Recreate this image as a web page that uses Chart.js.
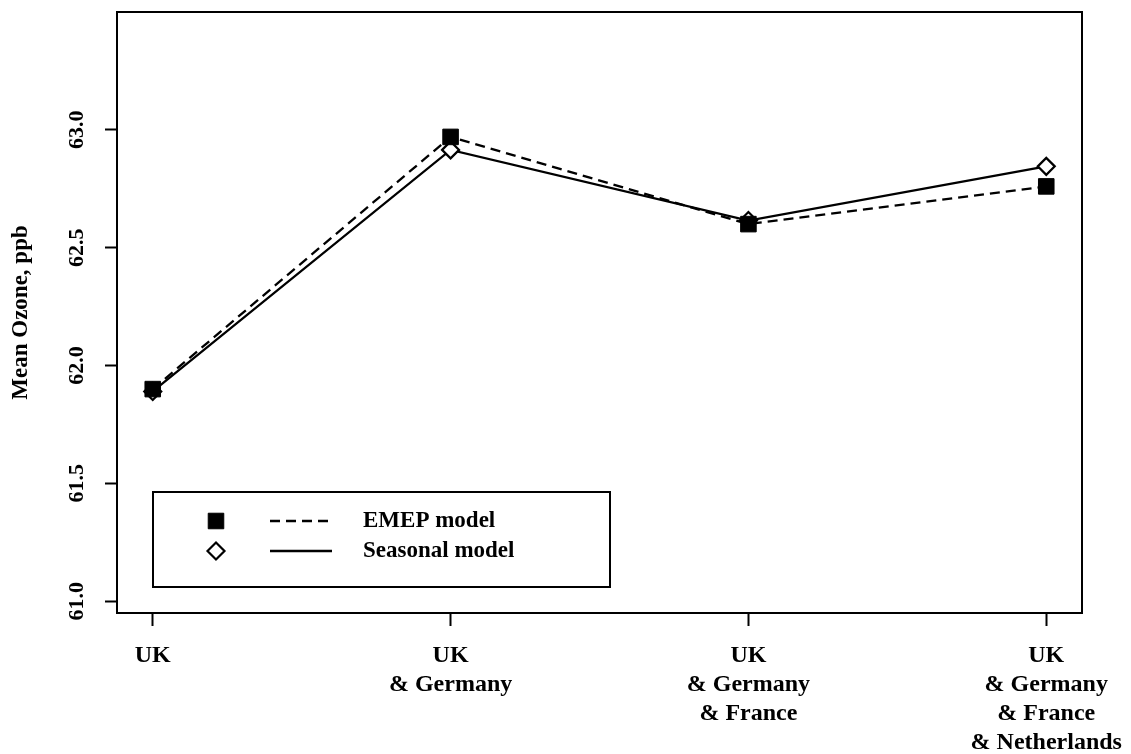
<!DOCTYPE html>
<html>
<head>
<meta charset="utf-8">
<script src="https://cdn.jsdelivr.net/npm/chart.js@4.4.0/dist/chart.umd.min.js"></script>
<style>
  html, body { margin: 0; padding: 0; background: #fff; }
</style>
</head>
<body>
<canvas id="ozoneChart" width="1131" height="754"></canvas>
<script>
// data
const categories = [
  ['UK'],
  ['UK', '& Germany'],
  ['UK', '& Germany', '& France'],
  ['UK', '& Germany', '& France', '& Netherlands']
];
const emepValues = [61.90, 62.97, 62.60, 62.76];
const seasonalValues = [61.89, 62.915, 62.615, 62.845];
const yTickValues = [61.0, 61.5, 62.0, 62.5, 63.0];
const seriesNames = ['EMEP model', 'Seasonal model'];

const serif = '"Liberation Serif", "Times New Roman", serif';

// white page behind the canvas
const bgPlugin = {
  id: 'bg',
  beforeDraw(chart) {
    const ctx = chart.ctx;
    ctx.save();
    ctx.fillStyle = '#fff';
    ctx.fillRect(0, 0, chart.width, chart.height);
    ctx.restore();
  }
};

// box round the plot region
const framePlugin = {
  id: 'frame',
  afterDatasetsDraw(chart) {
    const { ctx, chartArea: a } = chart;
    ctx.save();
    ctx.strokeStyle = '#000';
    ctx.lineWidth = 2;
    ctx.strokeRect(a.left, a.top, a.right - a.left, a.bottom - a.top);
    ctx.restore();
  }
};

// rotated y tick labels (R style)
const yLabelsPlugin = {
  id: 'yLabels',
  afterDraw(chart) {
    const ctx = chart.ctx;
    const y = chart.scales.y;
    ctx.save();
    ctx.font = 'bold 22px ' + serif;
    ctx.fillStyle = '#000';
    ctx.textAlign = 'center';
    ctx.textBaseline = 'middle';
    yTickValues.forEach(v => {
      ctx.save();
      ctx.translate(77, y.getPixelForValue(v));
      ctx.rotate(-Math.PI / 2);
      ctx.fillText(v.toFixed(1), 0, 0);
      ctx.restore();
    });
    ctx.restore();
  }
};

// boxed legend inside the plot, lower left
const legendBoxPlugin = {
  id: 'legendBox',
  afterDraw(chart) {
    const ctx = chart.ctx;
    ctx.save();
    ctx.strokeStyle = '#000';
    ctx.lineWidth = 2;
    ctx.strokeRect(153, 492, 457, 95);
    chart.data.datasets.forEach((ds, i) => {
      const rowY = 521 + i * 30;
      ctx.fillStyle = ds.pointBackgroundColor;
      ctx.strokeStyle = '#000';
      ctx.lineWidth = ds.pointBorderWidth;
      ctx.setLineDash([]);
      Chart.helpers.drawPoint(ctx, {
        pointStyle: ds.pointStyle,
        radius: ds.pointRadius,
        borderWidth: ds.pointBorderWidth,
        rotation: 0
      }, 216, rowY);
      ctx.lineWidth = ds.borderWidth;
      ctx.setLineDash(ds.borderDash || []);
      ctx.beginPath();
      ctx.moveTo(270, rowY);
      ctx.lineTo(332, rowY);
      ctx.stroke();
      ctx.setLineDash([]);
      ctx.font = 'bold 23px ' + serif;
      ctx.fillStyle = '#000';
      ctx.textAlign = 'left';
      ctx.textBaseline = 'middle';
      ctx.fillText(ds.label, 363, rowY);
    });
    ctx.restore();
  }
};

const data = {
  datasets: [{
    // EMEP: filled squares, dashed line
    label: seriesNames[0],
    data: emepValues.map((v, i) => ({ x: i + 1, y: v })),
    borderColor: '#000',
    borderWidth: 2.3,
    borderDash: [10, 6],
    pointStyle: 'rect',
    pointRadius: 11,
    pointBackgroundColor: '#000',
    pointBorderColor: '#000',
    pointBorderWidth: 1,
    order: 0
  }, {
    // Seasonal: open diamonds, solid line
    label: seriesNames[1],
    data: seasonalValues.map((v, i) => ({ x: i + 1, y: v })),
    borderColor: '#000',
    borderWidth: 2.3,
    pointStyle: 'rectRot',
    pointRadius: 8.5,
    pointBackgroundColor: '#fff',
    pointBorderColor: '#000',
    pointBorderWidth: 2.2,
    order: 1
  }]
};

const config = {
  type: 'line',
  data,
  plugins: [bgPlugin, framePlugin, yLabelsPlugin, legendBoxPlugin],
  options: {
    responsive: false,
    animation: false,
    layout: {
      padding: { top: 5, right: 49, left: 0, bottom: 0 }
    },
    plugins: {
      legend: { display: false },
      tooltip: { enabled: false }
    },
    scales: {
      x: {
        type: 'linear',
        min: 0.88,
        max: 4.12,
        afterBuildTicks: (scale) => {
          scale.ticks = categories.map((c, i) => ({ value: i + 1 }));
        },
        afterFit: (scale) => {
          scale.height = 141;
          // labels may overhang the frame, as in the original
          scale.paddingLeft = 0;
          scale.paddingRight = 0;
        },
        ticks: {
          callback: (value) => categories[value - 1],
          color: '#000',
          font: { family: serif, size: 24, weight: 'bold', lineHeight: 1.21 },
          padding: 15,
          maxRotation: 0,
          minRotation: 0
        },
        grid: {
          drawOnChartArea: false,
          drawTicks: true,
          tickLength: 13,
          tickColor: '#000',
          tickWidth: 2
        },
        border: { display: true, color: '#000', width: 2 }
      },
      y: {
        min: 60.95,
        max: 63.5,
        afterBuildTicks: (scale) => {
          scale.ticks = yTickValues.map(v => ({ value: v }));
        },
        afterFit: (scale) => {
          scale.width = 117;
          scale.paddingTop = 0;
          scale.paddingBottom = 0;
        },
        ticks: { display: false },
        grid: {
          drawOnChartArea: false,
          drawTicks: true,
          tickLength: 12,
          tickColor: '#000',
          tickWidth: 2
        },
        border: { display: true, color: '#000', width: 2 },
        title: {
          display: true,
          text: 'Mean Ozone, ppb',
          color: '#000',
          font: { family: serif, size: 23, weight: 'bold' },
          padding: { top: 7, bottom: 0 }
        }
      }
    }
  }
};

const ozoneChart = new Chart(document.getElementById('ozoneChart'), config);
</script>
</body>
</html>
